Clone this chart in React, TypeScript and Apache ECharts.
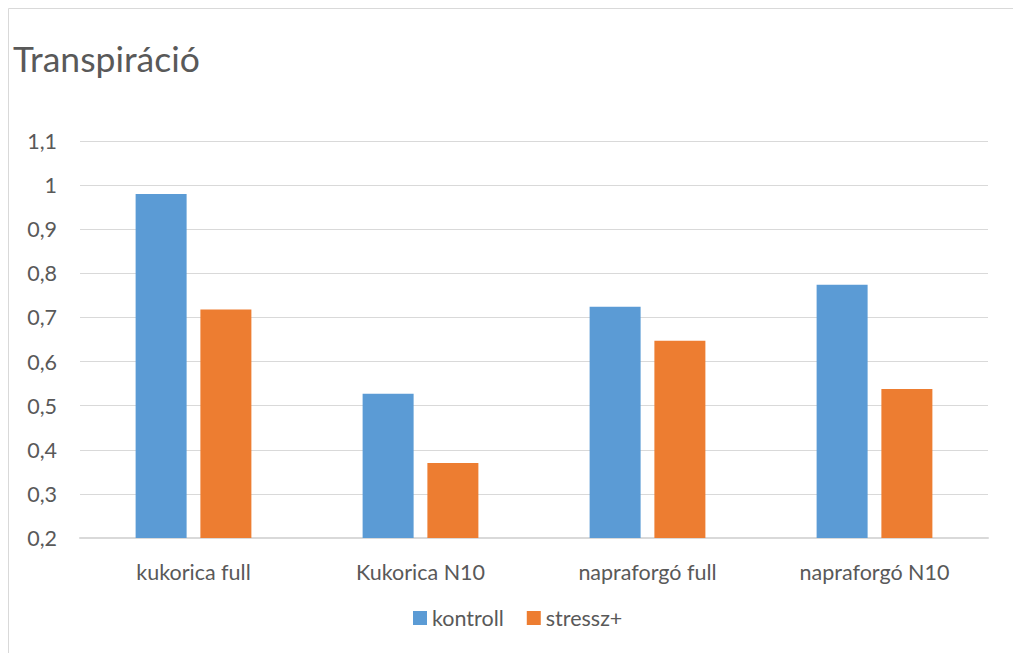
import React, { useEffect, useRef } from "react";
import * as echarts from "echarts";

const categories = ["kukorica full", "Kukorica N10", "napraforgó full", "napraforgó N10"];
const kontroll = [0.98, 0.527, 0.724, 0.774];
const stressz = [0.718, 0.37, 0.647, 0.538];
const seriesNames = ["kontroll", "stressz+"];

export default function App() {
  const ref = useRef<HTMLDivElement>(null);
  useEffect(() => {
    const chart = echarts.init(ref.current!, null, { renderer: "svg" });
    const font = "Lato, 'Open Sans', sans-serif";
    chart.setOption({
      animation: false,
      backgroundColor: "#ffffff",
      title: {
        text: "Transpiráció",
        left: 8,
        top: 35,
        textStyle: { color: "#595959", fontSize: 35.5, fontWeight: "normal", fontFamily: font },
      },
      graphic: [
        { type: "line", shape: { x1: 8.5, y1: 8.5, x2: 1013, y2: 8.5 }, style: { stroke: "#d9d9d9", lineWidth: 1 } },
        { type: "line", shape: { x1: 8.5, y1: 8.5, x2: 8.5, y2: 653 }, style: { stroke: "#d9d9d9", lineWidth: 1 } },
      ],
      legend: {
        data: seriesNames,
        bottom: 19,
        left: 408,
        itemWidth: 14,
        itemHeight: 14,
        itemGap: 23,
        icon: "rect",
        textStyle: { color: "#595959", fontSize: 21.5, fontFamily: font },
      },
      grid: { left: 80, right: 25, top: 141, bottom: 115, containLabel: false },
      xAxis: {
        type: "category",
        data: categories,
        axisLine: { lineStyle: { color: "#d9d9d9", width: 2 } },
        axisTick: { show: false },
        axisLabel: { color: "#595959", fontSize: 21.5, margin: 23, fontFamily: font },
      },
      yAxis: {
        type: "value",
        min: 0.2,
        max: 1.1,
        interval: 0.1,
        axisLine: { show: false },
        axisTick: { show: false },
        splitLine: { lineStyle: { color: "#d9d9d9", width: 1 } },
        axisLabel: {
          color: "#595959",
          fontSize: 21.5,
          margin: 23,
          fontFamily: font,
          formatter: (v: number) => String(Math.round(v * 10) / 10).replace(".", ","),
        },
      },
      series: [
        {
          name: seriesNames[0],
          type: "bar",
          data: kontroll,
          itemStyle: { color: "#5b9bd5" },
          barGap: "27%",
          barCategoryGap: "49%",
        },
        {
          name: seriesNames[1],
          type: "bar",
          data: stressz,
          itemStyle: { color: "#ed7d31" },
        },
      ],
    });
    return () => chart.dispose();
  }, []);
  return <div ref={ref} style={{ position: "fixed", left: 0, top: 0, width: 1013, height: 653 }} />;
}
